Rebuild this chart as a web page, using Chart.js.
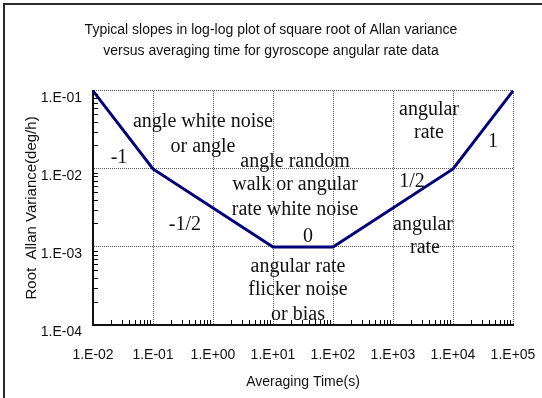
<!DOCTYPE html>
<html>
<head>
<meta charset="utf-8">
<script src="https://cdn.jsdelivr.net/npm/chart.js@4/dist/chart.umd.min.js"></script>
<style>
  body { margin: 0; background: #fff; }
  #wrap { position: relative; width: 542px; height: 398px; }
  #frame { position: absolute; left: 3px; top: 3px; right: 0; bottom: 0;
           border-left: 2px solid #2a2a2a; border-top: 2px solid #2a2a2a; }
  canvas { position: absolute; left: 0; top: 0; }
</style>
</head>
<body>
<div id="wrap">
  <div id="frame"></div>
  <canvas id="myChart" width="542" height="398"></canvas>
</div>
<script>
// averaging time (s) and root Allan variance at the slope break points
const tau = [0.01, 0.1, 10, 100, 10000, 100000]
const sigma = [0.1, 0.01, 0.001, 0.001, 0.01, 0.1]

const xTicks = [0.01, 0.1, 1, 10, 100, 1000, 10000, 100000]
const xTickLabels = ["1.E-02", "1.E-01", "1.E+00", "1.E+01", "1.E+02", "1.E+03", "1.E+04", "1.E+05"]
const yTicks = [0.0001, 0.001, 0.01, 0.1]
const yTickLabels = ["1.E-04", "1.E-03", "1.E-02", "1.E-01"]

const titleLines = [
  "Typical slopes in log-log plot of square root of Allan variance",
  "versus averaging time for gyroscope angular rate data"
]

// text notes placed on the chart, at (tau, sigma)
const notes = [
  ["angle white noise", 0.68, 0.0401],
  ["or angle", 0.68, 0.0191],
  ["-1", 0.0271, 0.0138],
  ["-1/2", 0.341, 0.00191],
  ["angle random", 23.3, 0.0124],
  ["walk or angular", 23.3, 0.00624],
  ["rate white noise", 23.3, 0.00298],
  ["0", 38.3, 0.00134],
  ["angular rate", 26.1, 0.000555],
  ["flicker noise", 26.1, 0.000281],
  ["or bias", 26.1, 0.000134],
  ["angular", 3981, 0.057],
  ["rate", 3981, 0.029],
  ["1", 46400, 0.0222],
  ["1/2", 2074, 0.00681],
  ["angular", 3162, 0.00191],
  ["rate", 3415, 0.00097]
]

const sansFont = "'Liberation Sans', Arial, sans-serif"
const serifFont = "'Liberation Serif', 'Times New Roman', serif"

const minorTicks = {
  id: "minorTicks",
  afterDraw(chart) {
    const ctx = chart.ctx
    const x = chart.scales.x
    const y = chart.scales.y
    ctx.save()
    ctx.strokeStyle = "#000"
    ctx.lineWidth = 1
    ctx.beginPath()
    for (let d = -2; d < 5; d++) {
      for (let m = 2; m < 10; m++) {
        const px = Math.round(x.getPixelForValue(m * Math.pow(10, d))) + 0.5
        ctx.moveTo(px, y.bottom)
        ctx.lineTo(px, y.bottom - 5)
      }
    }
    for (let d = -4; d < -1; d++) {
      for (let m = 2; m < 10; m++) {
        const py = Math.round(y.getPixelForValue(m * Math.pow(10, d))) + 0.5
        ctx.moveTo(x.left, py)
        ctx.lineTo(x.left + 5, py)
      }
    }
    ctx.stroke()
    ctx.restore()
  }
}

const noteText = {
  id: "noteText",
  afterDatasetsDraw(chart) {
    const ctx = chart.ctx
    ctx.save()
    ctx.fillStyle = "#111"
    ctx.font = "20px " + serifFont
    ctx.textAlign = "center"
    ctx.textBaseline = "middle"
    notes.forEach(([text, t, s]) => {
      ctx.fillText(text, chart.scales.x.getPixelForValue(t), chart.scales.y.getPixelForValue(s))
    })
    ctx.restore()
  }
}

const ctx = document.getElementById("myChart").getContext("2d")
const myChart = new Chart(ctx, {
  type: "line",
  data: {
    datasets: [{
      data: tau.map((t, i) => ({ x: t, y: sigma[i] })),
      borderColor: "#00007a",
      borderWidth: 3,
      pointRadius: 0,
      tension: 0,
      clip: 6
    }]
  },
  options: {
    responsive: false,
    animation: false,
    devicePixelRatio: 1,
    layout: { padding: 0 },
    plugins: {
      legend: { display: false },
      tooltip: { enabled: false },
      title: {
        display: true,
        text: titleLines,
        color: "#111",
        font: { family: sansFont, size: 14, weight: "normal", lineHeight: 1.55 },
        padding: { top: 19, bottom: 28.5 }
      }
    },
    scales: {
      x: {
        type: "logarithmic",
        min: 0.01,
        max: 100000,
        afterBuildTicks: (scale) => { scale.ticks = xTicks.map(v => ({ value: v })) },
        afterFit: (scale) => {
          scale.height = 73
          scale.paddingLeft = 0
          scale.paddingRight = 29
        },
        ticks: {
          color: "#111",
          padding: 21.5,
          maxRotation: 0,
          autoSkip: false,
          font: { family: sansFont, size: 14 },
          callback: (value, index) => xTickLabels[index]
        },
        grid: { color: "#555", lineWidth: 1, drawTicks: false },
        border: { display: true, color: "#111", width: 2, dash: [1, 1] },
        title: {
          display: true,
          text: "Averaging Time(s)",
          color: "#111",
          font: { family: sansFont, size: 14 },
          padding: { top: 0, bottom: 7.5 }
        }
      },
      y: {
        type: "logarithmic",
        min: 0.0001,
        max: 0.1,
        afterBuildTicks: (scale) => { scale.ticks = yTicks.map(v => ({ value: v })) },
        afterFit: (scale) => {
          scale.width = 93
          scale.paddingTop = 0
          scale.paddingBottom = 0
        },
        ticks: {
          color: "#111",
          padding: 11,
          labelOffset: 7,
          autoSkip: false,
          font: { family: sansFont, size: 14 },
          callback: (value, index) => yTickLabels[index]
        },
        grid: { color: "#555", lineWidth: 1, drawTicks: false },
        border: { display: true, color: "#111", width: 2, dash: [1, 1] },
        title: {
          display: true,
          text: "Root  Allan Variance(deg/h)",
          color: "#111",
          font: { family: sansFont, size: 15 },
          padding: { top: 23, bottom: 0 }
        }
      }
    }
  },
  plugins: [minorTicks, noteText]
})
</script>
</body>
</html>
